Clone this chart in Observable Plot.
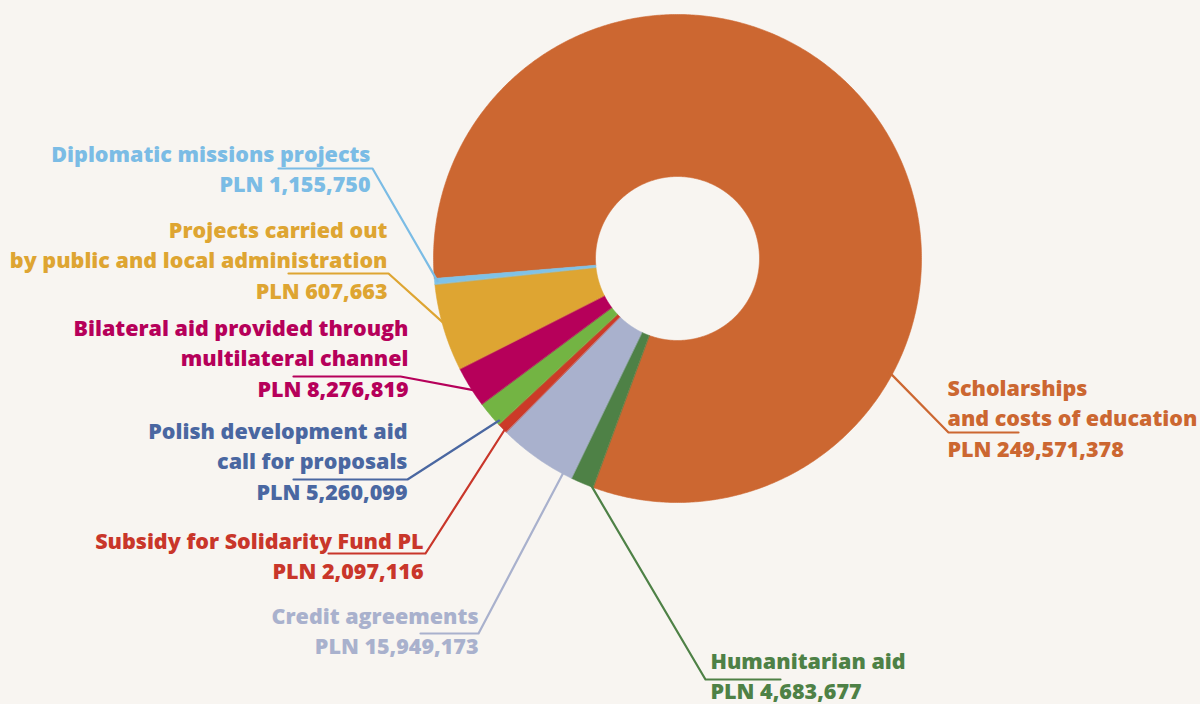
<!DOCTYPE html>
<html>
<head>
<meta charset="utf-8">
<script src="https://cdn.jsdelivr.net/npm/d3@7"></script>
<script src="https://cdn.jsdelivr.net/npm/@observablehq/plot@0.6"></script>
<style>
  html, body { margin: 0; padding: 0; background: #f8f5f1; }
  #chart svg { display: block; }
</style>
</head>
<body>
<div id="chart"></div>
<script>
// ---- data (clockwise from the light-blue/orange seam) ----
const categories = [
  "Scholarships and costs of education",
  "Humanitarian aid",
  "Credit agreements",
  "Subsidy for Solidarity Fund PL",
  "Polish development aid call for proposals",
  "Bilateral aid provided through multilateral channel",
  "Projects carried out by public and local administration",
  "Diplomatic missions projects"
];
// slice sizes as drawn (gold slice estimated from its drawn angle)
const sliceValues = [249571378, 4683677, 15949173, 2097116, 5260099, 8276819, 17607663, 1155750];
const amountLabels = ["PLN 249,571,378", "PLN 4,683,677", "PLN 15,949,173", "PLN 2,097,116",
  "PLN 5,260,099", "PLN 8,276,819", "PLN 607,663", "PLN 1,155,750"];
const labelLines = [
  ["Scholarships", "and costs of education"],
  ["Humanitarian aid"],
  ["Credit agreements"],
  ["Subsidy for Solidarity Fund PL"],
  ["Polish development aid", "call for proposals"],
  ["Bilateral aid provided through", "multilateral channel"],
  ["Projects carried out", "by public and local administration"],
  ["Diplomatic missions projects"]
];
const sliceColors = ["#cc6731", "#4e8146", "#a9b1cd", "#cc3a28", "#73b443", "#b6005a", "#dea532", "#7fc2e8"];
const textColors  = ["#cc6731", "#4e8146", "#a9b1cd", "#c9362a", "#4a67a1", "#b6005a", "#dea532", "#7bbce5"];

// ---- layout ----
const W = 1200, H = 704;
const CX = 677, CY = 258, R = 244, R0 = 82;
const START_DEG = 265.3;
const touchFrac = [0.722, 0.2, 0.12, 0.3, 0.1, 0.35, 0.52, 0.5];
const elbow = [[948, 432], [705, 679], [478, 633], [425, 553], [407, 479], [400, 376], [388, 273], [372, 168]];
const lineEnd = [[1018, 432], [780, 679], [420, 633], [328, 553], [293, 479], [293, 376], [288, 273], [278, 168]];
const labelPos = [[947, 395, "start"], [710, 668, "start"], [478, 623, "end"], [423, 548, "end"],
  [407, 438, "end"], [408, 335, "end"], [387, 237, "end"], [370, 161, "end"]];
const LINE_GAP = 30.5;

const rad = START_DEG * Math.PI / 180;
const arcs = d3.pie().value(d => d).sort(null).startAngle(rad).endAngle(rad + 2 * Math.PI)(sliceValues);
const pt = (a, r) => ({x: CX + r * Math.sin(a), y: CY - r * Math.cos(a)});

const slicePts = [];
arcs.forEach((a, i) => {
  const n = Math.max(3, Math.ceil((a.endAngle - a.startAngle) / (Math.PI / 360)));
  for (let k = 0; k <= n; k++) slicePts.push({...pt(a.startAngle + (a.endAngle - a.startAngle) * k / n, R), name: categories[i], color: sliceColors[i]});
  for (let k = n; k >= 0; k--) slicePts.push({...pt(a.startAngle + (a.endAngle - a.startAngle) * k / n, R0), name: categories[i], color: sliceColors[i]});
});

const leaderPts = [];
arcs.forEach((a, i) => {
  const t = a.startAngle + (a.endAngle - a.startAngle) * touchFrac[i];
  const p0 = pt(t, R - 3);
  [p0, {x: elbow[i][0], y: elbow[i][1]}, {x: lineEnd[i][0], y: lineEnd[i][1]}]
    .forEach(p => leaderPts.push({...p, name: categories[i], color: textColors[i]}));
});

const textRows = [];
categories.forEach((c, i) => {
  const lines = [...labelLines[i], amountLabels[i]];
  lines.forEach((s, k) => textRows.push({
    x: labelPos[i][0], y: labelPos[i][1] + k * LINE_GAP, text: s, anchor: labelPos[i][2], color: textColors[i]
  }));
});

const font = {fontFamily: "'Open Sans', sans-serif", fontWeight: 800, fontSize: 21.5, lineAnchor: "bottom"};

const chart = Plot.plot({
  width: W, height: H,
  margin: 0,
  style: {background: "#f8f5f1", overflow: "visible"},
  x: {domain: [0, W], range: [0, W], axis: null},
  y: {domain: [0, H], range: [0, H], axis: null},
  color: {type: "identity"},
  marks: [
    Plot.line(slicePts, {x: "x", y: "y", z: "name", fill: "color", stroke: "color", strokeWidth: 0.6, curve: "linear-closed"}),
    Plot.line(leaderPts, {x: "x", y: "y", z: "name", stroke: "color", strokeWidth: 2.2, curve: "linear"}),
    Plot.text(textRows.filter(d => d.anchor === "end"), {x: "x", y: "y", text: "text", fill: "color", textAnchor: "end", ...font}),
    Plot.text(textRows.filter(d => d.anchor === "start"), {x: "x", y: "y", text: "text", fill: "color", textAnchor: "start", ...font})
  ]
});
document.getElementById("chart").appendChild(chart);
</script>
</body>
</html>
